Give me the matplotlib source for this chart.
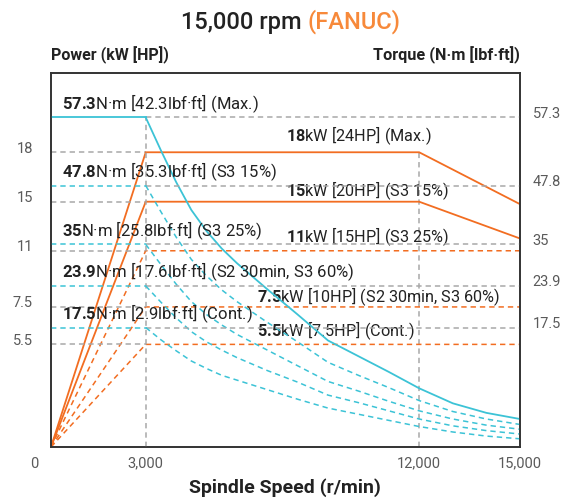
import numpy as np
import matplotlib
matplotlib.use("Agg")
import matplotlib.pyplot as plt
from matplotlib.transforms import ScaledTranslation

plt.rcParams['font.family'] = ['Roboto', 'DejaVu Sans']
plt.rcParams['mathtext.fontset'] = 'custom'
plt.rcParams['mathtext.rm'] = 'Roboto'
plt.rcParams['mathtext.bf'] = 'Roboto:bold'

ORANGE = '#f26d21'
CYAN = '#3cc3d6'
GREY = '#a8a8a8'
TXT = '#222222'

# ---- data ----
speed_ticks = [0, 3000, 12000, 15000]
speed_labels = ['0', '3,000', '12,000', '15,000']
base_speed = 3000
corner_speed = 12000
max_speed = 15000

power_levels = [18, 15, 11, 7.5, 5.5]          # kW
power_tick_labels = ['18', '15', '11', '7.5', '5.5']
power_names = ['[24HP] (Max.)', '[20HP] (S3 15%)', '[15HP] (S3 25%)',
               '[10HP] (S2 30min, S3 60%)', '[7.5HP] (Cont.)']
power_end = [14.8, 12.0, 11, 7.5, 5.5]           # kW at 15,000 r/min
power_solid = [True, True, False, False, False]

torque_levels = [57.3, 47.8, 35, 23.9, 17.5]     # N·m
torque_tick_labels = ['57.3', '47.8', '35', '23.9', '17.5']
torque_names = ['[42.3lbf·ft] (Max.)', '[35.3lbf·ft] (S3 15%)', '[25.8lbf·ft] (S3 25%)',
                '[17.6lbf·ft] (S2 30min, S3 60%)', '[2.9lbf·ft] (Cont.)']

# torque fall-off above base speed (N·m), one row per rating
torque_rpm = [3000, 3500, 4000, 4500, 5000, 5500, 6000, 7000, 8000,
              9000, 10000, 11000, 12000, 13000, 14000, 15000]
torque_max = [57.3, 52.7, 48.3, 42.5, 37.9, 33.9, 30.0, 23.4, 19.5,
              15.6, 13.3, 11.0, 8.6, 6.4, 5.0, 4.1]
torque_s3_15 = [47.8, 42.1, 36.6, 31.0, 26.6, 23.3, 21.5, 18.3, 15.4,
                12.4, 10.5, 8.7, 6.8, 5.2, 4.1, 3.3]
torque_s3_25 = [35.0, 29.6, 24.4, 21.5, 19.5, 17.9, 16.5, 14.2, 11.9,
                9.6, 8.2, 6.7, 5.3, 4.1, 3.2, 2.6]
torque_s3_60 = [23.9, 21.4, 19.0, 16.9, 15.4, 14.2, 13.1, 11.2, 9.5,
                7.6, 6.5, 5.3, 4.1, 3.1, 2.4, 1.9]
torque_cont = [17.5, 15.7, 14.1, 12.6, 11.5, 10.5, 9.8, 8.4, 7.0,
               5.7, 4.8, 3.9, 3.0, 2.2, 1.6, 1.2]
torque_curves = [torque_max, torque_s3_15, torque_s3_25, torque_s3_60, torque_cont]

# ---- the chart's axes are not linear: break points (value, fraction of axis) ----
x_breaks = ([0, 3000, 12000, 15000], [0, 0.202, 0.785, 1.0])
p_breaks = ([0, 5.5, 7.5, 11, 15, 18, 22.85], [0, 0.274, 0.374, 0.524, 0.655, 0.787, 1.0])
t_breaks = ([0, 17.5, 23.9, 35, 47.8, 57.3, 63.5], [0, 0.319, 0.430, 0.541, 0.698, 0.880, 1.0])


def piecewise(br):
    v, f = br
    return (lambda a: np.interp(a, v, f), lambda a: np.interp(a, f, v))


fig = plt.figure(figsize=(5.65, 5.01), dpi=100)
ax = fig.add_axes([51 / 565, 1 - 447 / 501, 469 / 565, 374.5 / 501])
ax2 = ax.twinx()

ax.set_xscale('function', functions=piecewise(x_breaks))
ax.set_yscale('function', functions=piecewise(p_breaks))
ax2.set_yscale('function', functions=piecewise(t_breaks))
ax.set_xlim(0, max_speed)
ax.set_ylim(0, p_breaks[0][-1])
ax2.set_ylim(0, t_breaks[0][-1])

dash = dict(linestyle=(0, (3.5, 2.6)), linewidth=1.1)

# vertical guides
ax2.plot([base_speed, base_speed], [0, torque_levels[0]], color=GREY, **dash)
ax.plot([corner_speed, corner_speed], [0, power_levels[0]], color=GREY, **dash)

# torque levels: coloured up to base speed, grey beyond
for i, lv in enumerate(torque_levels):
    ax2.plot([base_speed, max_speed], [lv, lv], color=GREY, **dash)
    style = dict(linewidth=1.3) if i == 0 else dash
    ax2.plot([0, base_speed], [lv, lv], color=CYAN, **style)
    ax2.plot(torque_rpm, torque_curves[i], color=CYAN, **style)

# power levels
for i, lv in enumerate(power_levels):
    ax.plot([0, base_speed], [lv, lv], color=GREY, **dash)
    if power_solid[i]:
        ax.plot([0, base_speed, corner_speed, max_speed], [0, lv, lv, power_end[i]],
                color=ORANGE, linewidth=1.3)
    else:
        ax.plot([0, base_speed, max_speed], [0, lv, power_end[i]], color=ORANGE, **dash)

# labels
for i, lv in enumerate(torque_levels):
    ax2.annotate(r'$\mathbf{' + torque_tick_labels[i] + r'}$N·m ' + torque_names[i],
                 xy=(350, lv), xytext=(0, 14), textcoords='offset pixels',
                 ha='left', va='center', fontsize=12, color=TXT)

power_label_x = [7620, 7620, 7620, 6650, 6650]
power_label_dy = [17, 11, 14, 10, 14]
for i, lv in enumerate(power_levels):
    ax.annotate(r'$\mathbf{' + power_tick_labels[i] + r'}$kW ' + power_names[i],
                xy=(power_label_x[i], lv), xytext=(0, power_label_dy[i]),
                textcoords='offset pixels', ha='left', va='center', fontsize=11.7, color=TXT)

# ticks
up = ScaledTranslation(0, 0.05, fig.dpi_scale_trans)
ax.set_yticks(power_levels, power_tick_labels)
ax2.set_yticks(torque_levels, torque_tick_labels)
ax.set_xticks(speed_ticks, speed_labels)
ax.tick_params(axis='y', length=0, pad=13, labelsize=10.5, labelcolor='#5a5a5a')
ax2.tick_params(axis='y', length=0, pad=9, labelsize=10.5, labelcolor='#5a5a5a')
ax.tick_params(axis='x', length=0, pad=7, labelsize=10.5, labelcolor='#5a5a5a')
for lab in ax.get_yticklabels() + ax2.get_yticklabels():
    lab.set_transform(lab.get_transform() + up)
xl = ax.get_xticklabels()
xl[0].set_transform(xl[0].get_transform() + ScaledTranslation(-0.17, 0, fig.dpi_scale_trans))

for a in (ax, ax2):
    for s in a.spines.values():
        s.set_color('#333333')
        s.set_linewidth(1.2)

# titles
t1 = fig.text(181 / 565, 1 - 22 / 501, '15,000 rpm ', ha='left', va='center',
              fontsize=17, fontweight='medium', color=TXT)
ax.annotate('(FANUC)', xy=(1, 0), xycoords=t1, ha='left', va='bottom',
            fontsize=17, fontweight='medium', color='#f7893a', annotation_clip=False)
fig.text(51 / 565, 1 - 55 / 501, 'Power (kW [HP])', ha='left', va='center',
         fontsize=11.5, fontweight='bold', color=TXT)
fig.text(520 / 565, 1 - 55 / 501, 'Torque (N·m [lbf·ft])', ha='right', va='center',
         fontsize=11.7, fontweight='bold', color=TXT)
fig.text(285 / 565, 1 - 488 / 501, 'Spindle Speed (r/min)', ha='center', va='center',
         fontsize=14, fontweight='bold', color=TXT)

fig.savefig('out.png', dpi=100)
